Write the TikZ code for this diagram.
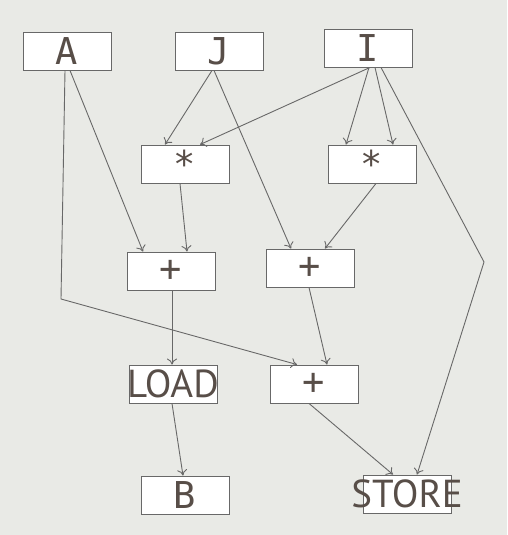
\documentclass[tikz,border=0pt]{standalone}
\usepackage{fontspec}
\usepackage{tikz}
\usetikzlibrary{arrows,arrows.meta,positioning}
\newfontfamily\opfont{DejaVu Sans Mono}
\newfontfamily\wordfont{PT Sans}
\definecolor{bgcol}{RGB}{233,234,230}
\definecolor{txtcol}{RGB}{88,78,72}
\definecolor{linecol}{RGB}{104,104,104}

\begin{document}
\begin{tikzpicture}[x=1pt,y=1pt]

      \tikzstyle{box}=[shape=rectangle,draw=linecol,line width=0.9pt,fill=white,minimum width=88pt,minimum height=38pt,inner sep=0pt,align=center,text=txtcol]
      \tikzstyle{op}=[box,font=\opfont\fontsize{37}{40}\selectfont]
      \tikzstyle{word}=[box,font=\wordfont\fontsize{39}{40}\selectfont]
      \tikzstyle{link}=[-{To[length=6pt,width=10pt]},linecol,line width=0.9pt]

      \fill[bgcol] (0,0) rectangle (507,-535);
      \useasboundingbox (0,0) rectangle (507,-535);

      \node[op] (A) at (67,-51) {A};
      \node[op] (J) at (219,-51) {J};
      \node[op] (I) at (368,-48) {I};

      \node[op] (M1) at (185,-164) {*};
      \node[op] (M2) at (372,-164) {*};

      \node[op] (P1) at (171,-271) {+};
      \node[op] (P2) at (310,-268) {+};

      \node[word] (L) at (173,-384) {\makebox[0pt]{LOAD}};
      \node[op] (P3) at (314,-384) {+};

      \node[op] (B) at (185,-495) {B};
      \node[word] (S) at (407,-494) {\makebox[0pt]{STORE}};

      % bend points of the long connectors
      \coordinate (a1) at (61,-299);
      \coordinate (i1) at (484,-262);

      \path [link] ([xshift=3pt]A.south) edge ([xshift=-28pt]P1.north);
      \draw [link] ([xshift=-2pt]A.south) -- (a1) -- ([xshift=-17pt]P3.north);
      \path [link] ([xshift=-7pt]J.south) edge ([xshift=-20pt]M1.north);
      \path [link] ([xshift=-5pt]J.south) edge ([xshift=-19pt]P2.north);
      \path [link] ([xshift=2pt]I.south) edge ([xshift=15pt]M1.north);
      \path [link] ([xshift=1pt]I.south) edge ([xshift=-26pt]M2.north);
      \path [link] ([xshift=7pt]I.south) edge ([xshift=21pt]M2.north);
      \draw [link] ([xshift=13pt]I.south) -- (i1) -- ([xshift=10pt]S.north);
      \path [link] ([xshift=-5pt]M1.south) edge ([xshift=16pt]P1.north);
      \path [link] ([xshift=4pt]M2.south) edge ([xshift=15pt]P2.north);
      \path [link] ([xshift=1pt]P1.south) edge ([xshift=-1pt]L.north);
      \path [link] ([xshift=-1pt]P2.south) edge ([xshift=13pt]P3.north);
      \path [link] ([xshift=-1pt]L.south) edge ([xshift=-2pt]B.north);
      \path [link] ([xshift=-5pt]P3.south) edge ([xshift=-14pt]S.north);
    \end{tikzpicture}
\end{document}
